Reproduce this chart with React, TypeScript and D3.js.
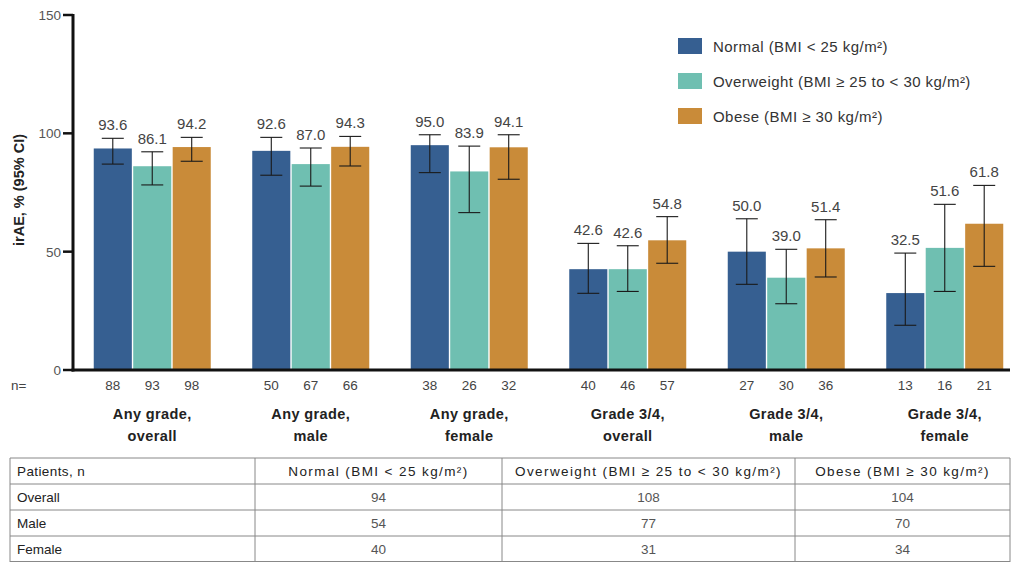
import React from 'react';
import * as d3 from 'd3';

const categories = [
  ['Any grade,', 'overall'],
  ['Any grade,', 'male'],
  ['Any grade,', 'female'],
  ['Grade 3/4,', 'overall'],
  ['Grade 3/4,', 'male'],
  ['Grade 3/4,', 'female']
];
const series = ['Normal (BMI < 25 kg/m²)', 'Overweight (BMI ≥ 25 to < 30 kg/m²)', 'Obese (BMI ≥ 30 kg/m²)'];
const colors = ['#365f91', '#6fbfb1', '#c98b39'];

// rate per category, per series
const values = [
  [93.6, 86.1, 94.2],
  [92.6, 87.0, 94.3],
  [95.0, 83.9, 94.1],
  [42.6, 42.6, 54.8],
  [50.0, 39.0, 51.4],
  [32.5, 51.6, 61.8]
];
const ciLow = [
  [87.0, 78.2, 88.2],
  [82.3, 77.7, 86.2],
  [83.4, 66.5, 80.6],
  [32.4, 33.2, 45.1],
  [36.2, 28.0, 39.3],
  [18.9, 33.2, 43.8]
];
const ciHigh = [
  [97.9, 92.2, 98.3],
  [98.3, 93.8, 98.7],
  [99.4, 94.6, 99.4],
  [53.5, 52.5, 64.8],
  [63.9, 51.0, 63.5],
  [49.4, 70.0, 78.0]
];
const nValues = [
  [88, 93, 98],
  [50, 67, 66],
  [38, 26, 32],
  [40, 46, 57],
  [27, 30, 36],
  [13, 16, 21]
];
const yTicks = [0, 50, 100, 150];

const tableHeader = ['Patients, n', 'Normal (BMI < 25 kg/m²)', 'Overweight (BMI ≥ 25 to < 30 kg/m²)', 'Obese (BMI ≥ 30 kg/m²)'];
const tableRows = ['Overall', 'Male', 'Female'];
const tableCounts = [
  [94, 108, 104],
  [54, 77, 70],
  [40, 31, 34]
];

const W = 1017;
const H = 562;
const axisX = 73;
const font = 'Arial, "Liberation Sans", sans-serif';

export default function App(): JSX.Element {
  const y = d3.scaleLinear().domain([0, 150]).range([370, 15]);
  const x0 = d3
    .scaleBand<number>()
    .domain(categories.map((_, i) => i))
    .range([axisX, 1024]);
  const groupW = 117;
  const x1 = d3
    .scaleBand<number>()
    .domain(series.map((_, i) => i))
    .range([0, groupW])
    .paddingInner(0.035);
  const off = (x0.bandwidth() - groupW) / 2;
  const bw = x1.bandwidth();

  // table geometry
  const colEdges = [10, 255, 502, 795, 1010];
  const rowY = d3.scaleBand<number>().domain([0, 1, 2, 3]).range([458, 562]);

  return (
    <div style={{ position: 'absolute', left: 0, top: 0 }}>
      <svg width={W} height={H} style={{ display: 'block', background: '#fff' }}>
        {/* bars */}
        {values.map((row, ci) =>
          row.map((v, si) => {
            const bx = (x0(ci) as number) + off + (x1(si) as number);
            return (
              <rect key={`b${ci}-${si}`} x={bx} y={y(v)} width={bw} height={y(0) - y(v)} fill={colors[si]} />
            );
          })
        )}
        {/* error bars + labels */}
        {values.map((row, ci) =>
          row.map((v, si) => {
            const cx = (x0(ci) as number) + off + (x1(si) as number) + bw / 2;
            const hi = y(ciHigh[ci][si]);
            const lo = y(ciLow[ci][si]);
            return (
              <g key={`e${ci}-${si}`} stroke="#1a1a1a" strokeWidth={1.1}>
                <line x1={cx} x2={cx} y1={hi} y2={lo} />
                <line x1={cx - 11} x2={cx + 11} y1={hi} y2={hi} />
                <line x1={cx - 11} x2={cx + 11} y1={lo} y2={lo} />
                <text
                  x={cx}
                  y={hi - 8}
                  textAnchor="middle"
                  stroke="none"
                  fill="#444"
                  fontSize={15}
                  fontFamily={font}
                >
                  {v.toFixed(1)}
                </text>
                <text
                  x={cx}
                  y={390}
                  textAnchor="middle"
                  stroke="none"
                  fill="#444"
                  fontSize={13.5}
                  fontFamily={font}
                >
                  {nValues[ci][si]}
                </text>
              </g>
            );
          })
        )}
        {/* axes */}
        <line x1={axisX} x2={axisX} y1={y(150) - 1} y2={y(0) + 1.5} stroke="#111" strokeWidth={3} />
        <line x1={axisX - 1.5} x2={1010} y1={y(0)} y2={y(0)} stroke="#111" strokeWidth={3} />
        {yTicks.map((t) => (
          <g key={`t${t}`}>
            <line x1={axisX - 10} x2={axisX} y1={y(t)} y2={y(t)} stroke="#111" strokeWidth={2.5} />
            <text x={axisX - 12} y={y(t) + 5} textAnchor="end" fill="#555" fontSize={13.5} fontFamily={font}>
              {t}
            </text>
          </g>
        ))}
        <text
          transform={`translate(24, 190) rotate(-90)`}
          textAnchor="middle"
          fontSize={14.5}
          fontWeight="bold"
          fill="#222"
          fontFamily={font}
        >
          irAE, % (95% CI)
        </text>
        <text x={11} y={390} fill="#444" fontSize={13.5} fontFamily={font}>
          n=
        </text>
        {categories.map((c, ci) => (
          <text
            key={`c${ci}`}
            x={(x0(ci) as number) + x0.bandwidth() / 2}
            y={419}
            textAnchor="middle"
            fontSize={14.5}
            fontWeight="bold"
            letterSpacing={0.4}
            fill="#222"
            fontFamily={font}
          >
            <tspan x={(x0(ci) as number) + x0.bandwidth() / 2}>{c[0]}</tspan>
            <tspan x={(x0(ci) as number) + x0.bandwidth() / 2} dy={22}>
              {c[1]}
            </tspan>
          </text>
        ))}
        {/* legend */}
        {series.map((s, si) => (
          <g key={`l${si}`} transform={`translate(678, ${38 + si * 35})`}>
            <rect width={24} height={16} fill={colors[si]} />
            <text x={35} y={13.5} fontSize={15} letterSpacing={0.45} fill="#333" fontFamily={font}>
              {s}
            </text>
          </g>
        ))}
        {/* table */}
        <g>
          {[0, 1, 2, 3].map((r) => (
            <line
              key={`hr${r}`}
              x1={colEdges[0]}
              x2={colEdges[4]}
              y1={rowY(r) as number}
              y2={rowY(r) as number}
              stroke="#888"
              strokeWidth={1}
            />
          ))}
          <line x1={colEdges[0]} x2={colEdges[4]} y1={561.5} y2={561.5} stroke="#888" />
          {colEdges.map((cx, i) => (
            <line key={`vc${i}`} x1={cx} x2={cx} y1={458} y2={562} stroke="#888" strokeWidth={1} />
          ))}
          {tableHeader.map((h, i) => (
            <text
              key={`th${i}`}
              x={i === 0 ? colEdges[0] + 7 : (colEdges[i] + colEdges[i + 1]) / 2}
              y={(rowY(0) as number) + rowY.bandwidth() / 2 + 5}
              textAnchor={i === 0 ? 'start' : 'middle'}
              fontSize={13.5}
              letterSpacing={i === 0 ? 0.4 : 1.4}
              fill="#222"
              fontFamily={font}
            >
              {h}
            </text>
          ))}
          {tableRows.map((r, ri) => (
            <g key={`tr${ri}`}>
              <text
                x={colEdges[0] + 7}
                y={(rowY(ri + 1) as number) + rowY.bandwidth() / 2 + 5}
                fontSize={13.5}
                fill="#222"
                fontFamily={font}
              >
                {r}
              </text>
              {tableCounts[ri].map((v, ci) => (
                <text
                  key={`tc${ci}`}
                  x={(colEdges[ci + 1] + colEdges[ci + 2]) / 2}
                  y={(rowY(ri + 1) as number) + rowY.bandwidth() / 2 + 5}
                  textAnchor="middle"
                  fontSize={13.5}
                  fill="#555"
                  fontFamily={font}
                >
                  {v}
                </text>
              ))}
            </g>
          ))}
        </g>
      </svg>
    </div>
  );
}
